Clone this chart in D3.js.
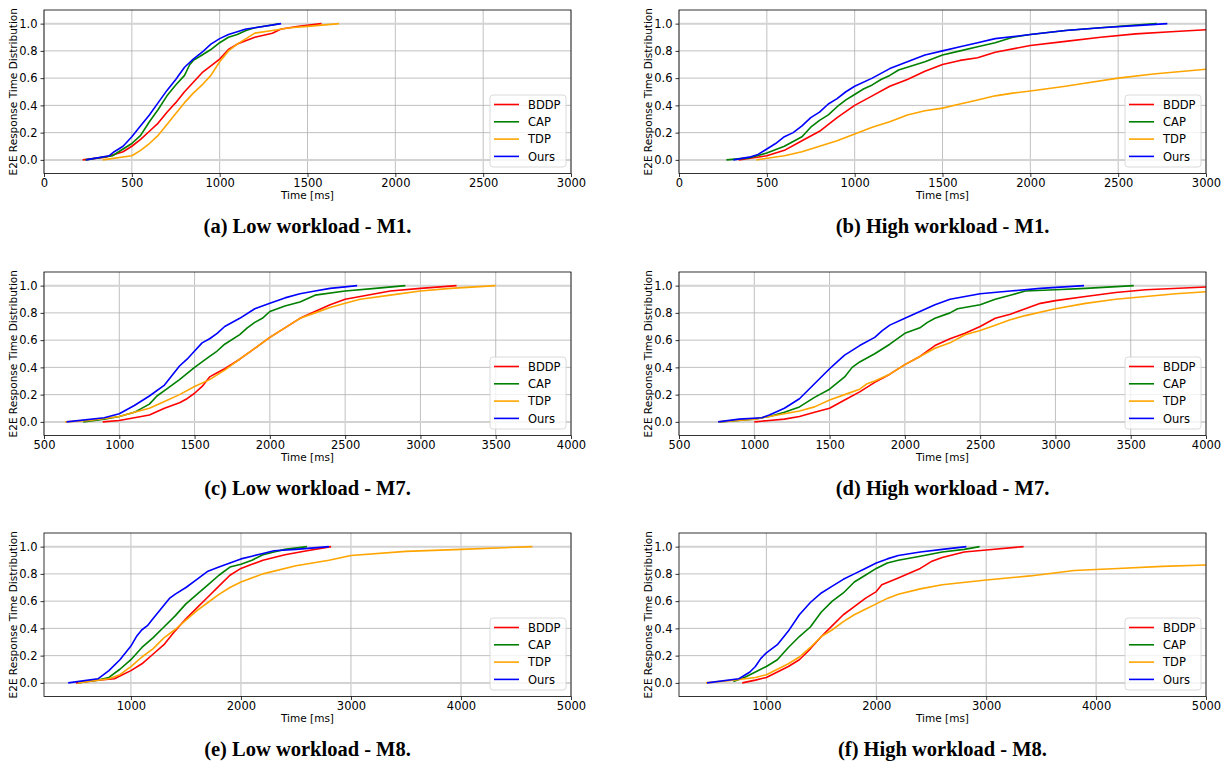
<!DOCTYPE html>
<html>
<head>
<meta charset="utf-8">
<script src="https://cdn.jsdelivr.net/npm/d3@7"></script>
<style>
  body { margin: 0; background: #fff; }
  .tick text { font-family: "DejaVu Sans", sans-serif; font-size: 11.5px; fill: #000; }
</style>
</head>
<body>
<div id="chart"></div>
<script>
const seriesNames = ["BDDP", "CAP", "TDP", "Ours"];
const seriesColors = ["#ff0000", "#008000", "#ffa500", "#0000ff"];
const yTicks = [0, 0.2, 0.4, 0.6, 0.8, 1.0];

// (a) Low workload - M1  [time ms, cdf]
const lowM1_BDDP = [[220,0],[350,0.02],[450,0.06],[500,0.1],[550,0.15],[600,0.21],[650,0.27],[700,0.35],[750,0.42],[800,0.5],[850,0.57],[900,0.64],[950,0.69],[1000,0.74],[1050,0.81],[1100,0.85],[1200,0.9],[1300,0.93],[1350,0.96],[1450,0.98],[1580,1.0]];
const lowM1_CAP = [[235,0],[390,0.03],[450,0.08],[500,0.12],[550,0.18],[600,0.28],[650,0.37],[700,0.47],[750,0.55],[800,0.62],[830,0.7],[850,0.73],[900,0.77],[950,0.81],[1000,0.86],[1050,0.9],[1100,0.92],[1150,0.95],[1200,0.97],[1300,0.99],[1340,1.0]];
const lowM1_TDP = [[335,0],[500,0.03],[550,0.07],[600,0.12],[650,0.18],[700,0.26],[750,0.34],[800,0.42],[850,0.49],[900,0.55],[950,0.62],[1000,0.72],[1050,0.8],[1100,0.85],[1150,0.89],[1200,0.93],[1300,0.95],[1400,0.97],[1500,0.98],[1680,1.0]];
const lowM1_Ours = [[240,0],[370,0.03],[400,0.06],[450,0.1],[500,0.17],[550,0.25],[600,0.33],[650,0.42],[700,0.51],[750,0.59],[800,0.68],[850,0.74],[900,0.79],[950,0.85],[1000,0.89],[1050,0.92],[1100,0.94],[1150,0.96],[1200,0.97],[1350,1.0]];

// (b) High workload - M1
const highM1_BDDP = [[340,0],[500,0.03],[600,0.07],[700,0.14],[800,0.21],[900,0.31],[1000,0.4],[1100,0.47],[1200,0.54],[1300,0.59],[1400,0.65],[1500,0.7],[1600,0.73],[1700,0.75],[1800,0.79],[2000,0.84],[2200,0.87],[2400,0.9],[2600,0.925],[2800,0.94],[3000,0.955]];
const highM1_CAP = [[270,0],[400,0.015],[500,0.05],[600,0.1],[700,0.17],[750,0.24],[800,0.29],[850,0.33],[900,0.39],[950,0.44],[1000,0.48],[1050,0.52],[1100,0.55],[1150,0.59],[1200,0.62],[1250,0.66],[1300,0.68],[1400,0.72],[1500,0.77],[1600,0.8],[1700,0.83],[1800,0.86],[1900,0.9],[2000,0.92],[2200,0.95],[2400,0.97],[2600,0.99],[2720,1.0]];
const highM1_TDP = [[440,0],[600,0.03],[700,0.06],[800,0.1],[900,0.14],[1000,0.19],[1100,0.24],[1200,0.28],[1300,0.33],[1400,0.36],[1500,0.38],[1600,0.41],[1700,0.44],[1800,0.47],[1900,0.49],[2000,0.505],[2200,0.54],[2300,0.56],[2500,0.6],[2700,0.63],[3000,0.665]];
const highM1_Ours = [[309,0],[400,0.02],[450,0.04],[500,0.08],[550,0.12],[600,0.17],[650,0.2],[700,0.25],[750,0.31],[800,0.35],[850,0.41],[900,0.45],[950,0.5],[1000,0.54],[1100,0.6],[1200,0.67],[1300,0.72],[1400,0.77],[1500,0.8],[1600,0.83],[1700,0.86],[1800,0.89],[2000,0.92],[2200,0.95],[2400,0.97],[2600,0.985],[2780,1.0]];

// (c) Low workload - M7
const lowM7_BDDP = [[890,0],[1000,0.01],[1100,0.03],[1200,0.05],[1300,0.1],[1400,0.14],[1450,0.17],[1500,0.21],[1550,0.26],[1600,0.33],[1650,0.36],[1700,0.39],[1800,0.46],[1900,0.54],[2000,0.62],[2100,0.69],[2200,0.76],[2300,0.81],[2400,0.86],[2500,0.9],[2600,0.92],[2800,0.96],[3000,0.98],[3240,1.0]];
const lowM7_CAP = [[760,0],[900,0.02],[1000,0.04],[1100,0.07],[1200,0.13],[1250,0.19],[1300,0.23],[1400,0.31],[1500,0.4],[1600,0.48],[1650,0.52],[1700,0.57],[1800,0.64],[1850,0.69],[1900,0.73],[1950,0.76],[2000,0.81],[2100,0.85],[2200,0.88],[2300,0.93],[2500,0.96],[2700,0.98],[2900,1.0]];
const lowM7_TDP = [[640,0],[800,0.01],[1000,0.04],[1100,0.07],[1200,0.1],[1300,0.15],[1400,0.2],[1500,0.26],[1600,0.31],[1700,0.38],[1800,0.46],[1900,0.54],[2000,0.62],[2100,0.69],[2200,0.76],[2300,0.8],[2400,0.84],[2500,0.87],[2600,0.9],[2800,0.93],[3000,0.96],[3200,0.98],[3500,1.0]];
const lowM7_Ours = [[650,0],[900,0.03],[1000,0.06],[1100,0.12],[1200,0.19],[1300,0.27],[1350,0.34],[1400,0.41],[1450,0.46],[1500,0.52],[1550,0.58],[1600,0.61],[1650,0.65],[1700,0.7],[1800,0.76],[1900,0.83],[2000,0.87],[2100,0.91],[2200,0.94],[2300,0.96],[2400,0.98],[2580,1.0]];

// (d) High workload - M7
const highM7_BDDP = [[1000,0],[1100,0.01],[1200,0.02],[1300,0.04],[1400,0.07],[1500,0.1],[1600,0.16],[1700,0.22],[1800,0.29],[1900,0.35],[2000,0.42],[2100,0.48],[2200,0.56],[2300,0.61],[2400,0.65],[2500,0.7],[2600,0.76],[2700,0.79],[2800,0.83],[2900,0.87],[3000,0.89],[3200,0.92],[3400,0.95],[3600,0.97],[4000,0.99]];
const highM7_CAP = [[770,0],[1000,0.02],[1100,0.04],[1200,0.07],[1300,0.11],[1400,0.18],[1500,0.24],[1600,0.33],[1650,0.4],[1700,0.44],[1800,0.5],[1900,0.57],[2000,0.65],[2100,0.69],[2150,0.73],[2200,0.76],[2300,0.8],[2350,0.83],[2500,0.86],[2600,0.9],[2700,0.93],[2800,0.96],[3000,0.97],[3200,0.98],[3520,1.0]];
const highM7_TDP = [[760,0],[1000,0.02],[1100,0.04],[1200,0.06],[1300,0.08],[1400,0.11],[1500,0.16],[1600,0.2],[1700,0.24],[1750,0.28],[1800,0.3],[1900,0.35],[2000,0.42],[2100,0.48],[2200,0.54],[2300,0.58],[2400,0.64],[2500,0.67],[2600,0.71],[2700,0.75],[2800,0.78],[3000,0.83],[3200,0.87],[3400,0.9],[3600,0.92],[3800,0.94],[4000,0.955]];
const highM7_Ours = [[760,0],[900,0.02],[1050,0.03],[1100,0.05],[1200,0.1],[1300,0.17],[1400,0.28],[1500,0.39],[1550,0.44],[1600,0.49],[1700,0.56],[1800,0.62],[1850,0.67],[1900,0.71],[2000,0.76],[2100,0.81],[2200,0.86],[2300,0.9],[2400,0.92],[2500,0.94],[2700,0.96],[2900,0.98],[3190,1.0]];

// (e) Low workload - M8
const lowM8_BDDP = [[500,0],[700,0.02],[850,0.03],[900,0.05],[1000,0.09],[1100,0.14],[1200,0.21],[1300,0.28],[1400,0.38],[1500,0.47],[1600,0.55],[1700,0.63],[1800,0.71],[1900,0.79],[2000,0.84],[2100,0.87],[2200,0.9],[2400,0.94],[2600,0.97],[2820,1.0]];
const lowM8_CAP = [[520,0],[600,0.01],[700,0.02],[800,0.04],[900,0.1],[1000,0.17],[1100,0.26],[1200,0.33],[1300,0.41],[1400,0.49],[1500,0.58],[1600,0.65],[1700,0.72],[1800,0.79],[1900,0.85],[2000,0.87],[2100,0.9],[2200,0.94],[2300,0.96],[2400,0.98],[2600,1.0]];
const lowM8_TDP = [[520,0],[700,0.02],[800,0.03],[900,0.06],[1000,0.12],[1100,0.19],[1200,0.25],[1300,0.33],[1400,0.39],[1500,0.46],[1600,0.53],[1700,0.59],[1800,0.65],[1900,0.7],[2000,0.74],[2200,0.8],[2500,0.86],[2800,0.9],[3000,0.935],[3500,0.965],[4000,0.98],[4650,1.0]];
const lowM8_Ours = [[430,0],[700,0.03],[800,0.09],[900,0.17],[1000,0.27],[1050,0.34],[1100,0.39],[1150,0.42],[1200,0.47],[1300,0.57],[1350,0.62],[1400,0.65],[1500,0.7],[1600,0.76],[1700,0.82],[1800,0.85],[1900,0.88],[2000,0.91],[2100,0.93],[2200,0.95],[2300,0.97],[2500,0.98],[2800,1.0]];

// (f) High workload - M8
const highM8_BDDP = [[780,0],[900,0.02],[1000,0.04],[1100,0.08],[1200,0.12],[1300,0.17],[1400,0.25],[1500,0.34],[1600,0.42],[1700,0.5],[1800,0.56],[1900,0.62],[2000,0.67],[2050,0.72],[2200,0.77],[2400,0.84],[2500,0.89],[2600,0.92],[2800,0.96],[3000,0.975],[3340,1.0]];
const highM8_CAP = [[700,0.01],[800,0.04],[900,0.08],[1000,0.12],[1100,0.17],[1200,0.26],[1300,0.34],[1400,0.41],[1500,0.52],[1600,0.6],[1700,0.66],[1800,0.74],[1900,0.79],[2000,0.84],[2100,0.88],[2200,0.9],[2400,0.93],[2600,0.96],[2800,0.98],[2940,1.0]];
const highM8_TDP = [[450,0],[700,0.02],[900,0.04],[1000,0.06],[1100,0.1],[1200,0.14],[1300,0.19],[1400,0.26],[1500,0.34],[1600,0.39],[1700,0.45],[1800,0.5],[1900,0.54],[2000,0.58],[2100,0.62],[2200,0.65],[2400,0.69],[2600,0.72],[3000,0.755],[3400,0.785],[3800,0.825],[4200,0.84],[4600,0.855],[5000,0.865]];
const highM8_Ours = [[460,0],[750,0.03],[850,0.08],[900,0.12],[950,0.18],[1000,0.22],[1100,0.28],[1200,0.38],[1300,0.5],[1400,0.59],[1500,0.66],[1600,0.71],[1700,0.76],[1800,0.8],[1900,0.84],[2000,0.88],[2100,0.91],[2200,0.935],[2400,0.96],[2600,0.98],[2820,1.0]];

const ticksM1 = [0, 500, 1000, 1500, 2000, 2500, 3000];
const ticksM7 = [500, 1000, 1500, 2000, 2500, 3000, 3500, 4000];
const ticksM8 = [1000, 2000, 3000, 4000, 5000];

const panels = [
  { caption: "(a) Low workload - M1.", xDomain: [0, 3000], ticks: ticksM1, data: [lowM1_BDDP, lowM1_CAP, lowM1_TDP, lowM1_Ours] },
  { caption: "(b) High workload - M1.", xDomain: [0, 3000], ticks: ticksM1, data: [highM1_BDDP, highM1_CAP, highM1_TDP, highM1_Ours] },
  { caption: "(c) Low workload - M7.", xDomain: [500, 4000], ticks: ticksM7, data: [lowM7_BDDP, lowM7_CAP, lowM7_TDP, lowM7_Ours] },
  { caption: "(d) High workload - M7.", xDomain: [500, 4000], ticks: ticksM7, data: [highM7_BDDP, highM7_CAP, highM7_TDP, highM7_Ours] },
  { caption: "(e) Low workload - M8.", xDomain: [210, 5000], ticks: ticksM8, data: [lowM8_BDDP, lowM8_CAP, lowM8_TDP, lowM8_Ours] },
  { caption: "(f) High workload - M8.", xDomain: [205, 5000], ticks: ticksM8, data: [highM8_BDDP, highM8_CAP, highM8_TDP, highM8_Ours] },
];

const colLeft = [44, 679];
const rowTop = [10, 272, 533];
const width = 527, height = 163.5;

const svg = d3.select("#chart").append("svg")
  .attr("width", 1228)
  .attr("height", 763)
  .style("display", "block");

panels.forEach((p, i) => {
  const left = colLeft[i % 2], top = rowTop[Math.floor(i / 2)];
  const g = svg.append("g").attr("transform", "translate(" + left + "," + top + ")");

  const x = d3.scaleLinear().domain(p.xDomain).range([0, width]);
  const y = d3.scaleLinear().domain([-0.1, 1.1]).range([height, 0]);

  // grid
  g.append("g").selectAll("line").data(p.ticks).enter().append("line")
    .attr("x1", d => x(d)).attr("x2", d => x(d))
    .attr("y1", 0).attr("y2", height)
    .style("stroke", "#b0b0b0").style("stroke-width", 0.8);
  g.append("g").selectAll("line").data(yTicks).enter().append("line")
    .attr("x1", 0).attr("x2", width)
    .attr("y1", d => y(d)).attr("y2", d => y(d))
    .style("stroke", "#b0b0b0").style("stroke-width", 0.8);
  // bounds at 0 and 1
  g.append("g").selectAll("line").data([0, 1]).enter().append("line")
    .attr("x1", 0).attr("x2", width)
    .attr("y1", d => y(d)).attr("y2", d => y(d))
    .style("stroke", "#d3d3d3").style("stroke-width", 2);

  const clipId = "clip" + i;
  g.append("clipPath").attr("id", clipId).append("rect")
    .attr("width", width).attr("height", height);

  const line = d3.line().x(d => x(d[0])).y(d => y(d[1]));
  g.append("g").attr("clip-path", "url(#" + clipId + ")")
    .selectAll("path").data(p.data).enter().append("path")
    .attr("d", line)
    .style("fill", "none")
    .style("stroke", (d, k) => seriesColors[k])
    .style("stroke-width", 1.6)
    .style("stroke-linejoin", "round");

  // axes
  const xAxis = g.append("g").attr("transform", "translate(0," + height + ")")
    .call(d3.axisBottom(x).tickValues(p.ticks).tickFormat(d3.format("d")).tickSize(3.5).tickPadding(2).tickSizeOuter(0));
  const yAxis = g.append("g")
    .call(d3.axisLeft(y).tickValues(yTicks).tickFormat(d3.format(".1f")).tickSize(3.5).tickPadding(3).tickSizeOuter(0));
  [xAxis, yAxis].forEach(a => {
    a.select(".domain").remove();
    a.selectAll(".tick line").style("stroke", "#000").style("stroke-width", 0.8);
  });

  g.append("rect")
    .attr("width", width).attr("height", height)
    .style("fill", "none").style("stroke", "#000").style("stroke-width", 0.8);

  // legend
  const legend = g.append("g").attr("transform", "translate(" + (width - 81) + "," + (height - 78.5) + ")");
  legend.append("rect")
    .attr("width", 76).attr("height", 72).attr("rx", 3)
    .style("fill", "#fff").style("fill-opacity", 0.8)
    .style("stroke", "#d0d0d0").style("stroke-width", 0.8);
  const items = legend.selectAll("g.item").data(seriesNames).enter().append("g")
    .attr("class", "item")
    .attr("transform", (d, k) => "translate(0," + (9.5 + k * 17.3) + ")");
  items.append("line")
    .attr("x1", 4).attr("x2", 29)
    .style("stroke", (d, k) => seriesColors[k]).style("stroke-width", 1.6);
  items.append("text")
    .attr("x", 38).attr("dy", "0.36em")
    .style("font-family", "DejaVu Sans").style("font-size", "11.5px")
    .text(d => d);

  // labels
  g.append("text")
    .attr("x", width / 2).attr("y", height + 25)
    .attr("text-anchor", "middle")
    .style("font-family", "DejaVu Sans").style("font-size", "10.5px")
    .text("Time [ms]");
  g.append("text")
    .attr("transform", "translate(-27," + (height / 2) + ") rotate(-90)")
    .attr("text-anchor", "middle")
    .style("font-family", "DejaVu Sans").style("font-size", "10.5px")
    .text("E2E Response Time Distribution");

  g.append("text")
    .attr("x", width / 2).attr("y", 223)
    .attr("text-anchor", "middle")
    .style("font-family", "Liberation Serif").style("font-weight", "bold").style("font-size", "20.5px")
    .text(p.caption);
});
</script>
</body>
</html>
